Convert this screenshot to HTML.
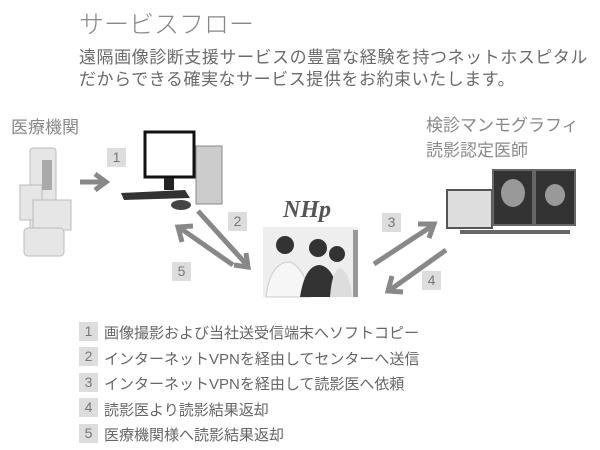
<!DOCTYPE html>
<html><head><meta charset="utf-8"><style>
body{margin:0;width:600px;height:450px;background:#fff;position:relative;overflow:hidden;font-family:"Liberation Sans","Noto Sans CJK JP",sans-serif;color:#666}
.t{position:absolute;white-space:nowrap}
.b{position:absolute;background:#ddd;color:#777;font-size:14px;text-align:center;line-height:19px;width:19px;height:19px}
</style></head><body>
<div class="t" style="left:79px;top:5px;font-size:25px;color:#888;font-weight:300">サービスフロー</div>
<div class="t" style="left:79px;top:47px;font-size:17px;line-height:22px;letter-spacing:0.55px;color:#6a6a6a">遠隔画像診断支援サービスの豊富な経験を持つネットホスピタル<br>だからできる確実なサービス提供をお約束いたします。</div>
<div class="t" style="left:11px;top:113px;font-size:17px;color:#888">医療機関</div>
<div class="t" style="left:426px;top:113px;font-size:17px;color:#888;line-height:25px">検診マンモグラフィ<br>読影認定医師</div>
<svg width="600" height="450" style="position:absolute;left:0;top:0">
<g fill="#e6e6e6" stroke="#bbb" stroke-width="1">
<rect x="30" y="148" width="26" height="85" rx="3"/>
<rect x="20" y="185" width="22" height="35"/>
<rect x="33" y="200" width="38" height="30"/>
<rect x="24" y="228" width="40" height="28" rx="4"/>
</g>
<rect x="42" y="160" width="10" height="30" fill="#aaa"/>
<rect x="145" y="132" width="49" height="45" fill="#fff" stroke="#111" stroke-width="3"/>
<rect x="164" y="178" width="10" height="12" fill="#222"/>
<rect x="196" y="146" width="26" height="58" fill="#ccc" stroke="#888"/>
<polygon points="121,193 185,190 190,198 124,200" fill="#333"/>
<ellipse cx="181" cy="205" rx="10" ry="5" fill="#444"/>
<text x="283" y="217" font-family="Liberation Serif" font-style="italic" font-weight="bold" font-size="24" fill="#555">NHp</text>
<rect x="263" y="227" width="95" height="70" fill="#eee"/>
<circle cx="285" cy="245" r="9" fill="#333"/><circle cx="318" cy="248" r="9" fill="#333"/><circle cx="337" cy="254" r="8" fill="#333"/>
<path d="M266 297 Q270 262 290 262 Q305 268 310 297Z" fill="#f6f6f6" stroke="#ccc"/>
<path d="M300 297 Q305 265 320 265 Q335 268 338 297Z" fill="#333"/>
<path d="M330 297 Q332 270 340 268 Q350 272 352 297Z" fill="#ddd"/>
<rect x="353" y="230" width="5" height="67" fill="#999"/>
<rect x="447" y="190" width="45" height="38" fill="#ddd" stroke="#555" stroke-width="2"/>
<rect x="493" y="170" width="40" height="55" fill="#333" stroke="#666" stroke-width="2"/>
<rect x="535" y="170" width="40" height="55" fill="#333" stroke="#666" stroke-width="2"/>
<ellipse cx="513" cy="193" rx="12" ry="14" fill="#999"/>
<ellipse cx="555" cy="195" rx="10" ry="11" fill="#999"/>
<rect x="460" y="230" width="110" height="4" fill="#666"/>
<g stroke="#888" stroke-width="5" fill="none" stroke-linecap="butt">
<line x1="80" y1="182" x2="104" y2="182"/><polyline points="95,174 106,182 95,190"/>
<line x1="198" y1="211" x2="247" y2="265"/><polyline points="234,265 248,267 246,253"/>
<line x1="233" y1="265" x2="180" y2="228"/><polyline points="182,242 178,227 193,226"/>
<line x1="374" y1="264" x2="432" y2="226"/><polyline points="418,224 434,224 429,238"/>
<line x1="446" y1="250" x2="390" y2="290"/><polyline points="392,276 388,291 403,292"/>
</g>
</svg>
<div class="b" style="left:107px;top:148px">1</div>
<div class="b" style="left:228px;top:212px">2</div>
<div class="b" style="left:172px;top:262px">5</div>
<div class="b" style="left:382px;top:213px">3</div>
<div class="b" style="left:422px;top:271px">4</div>
<div class="b" style="left:79px;top:322px">1</div>
<div class="b" style="left:79px;top:347px">2</div>
<div class="b" style="left:79px;top:373px">3</div>
<div class="b" style="left:79px;top:398px">4</div>
<div class="b" style="left:79px;top:424px">5</div>
<div class="t" style="left:104px;top:321px;font-size:15px;line-height:25.5px">画像撮影および当社送受信端末へソフトコピー<br>インターネットVPNを経由してセンターへ送信<br>インターネットVPNを経由して読影医へ依頼<br>読影医より読影結果返却<br>医療機関様へ読影結果返却</div>
</body></html>
